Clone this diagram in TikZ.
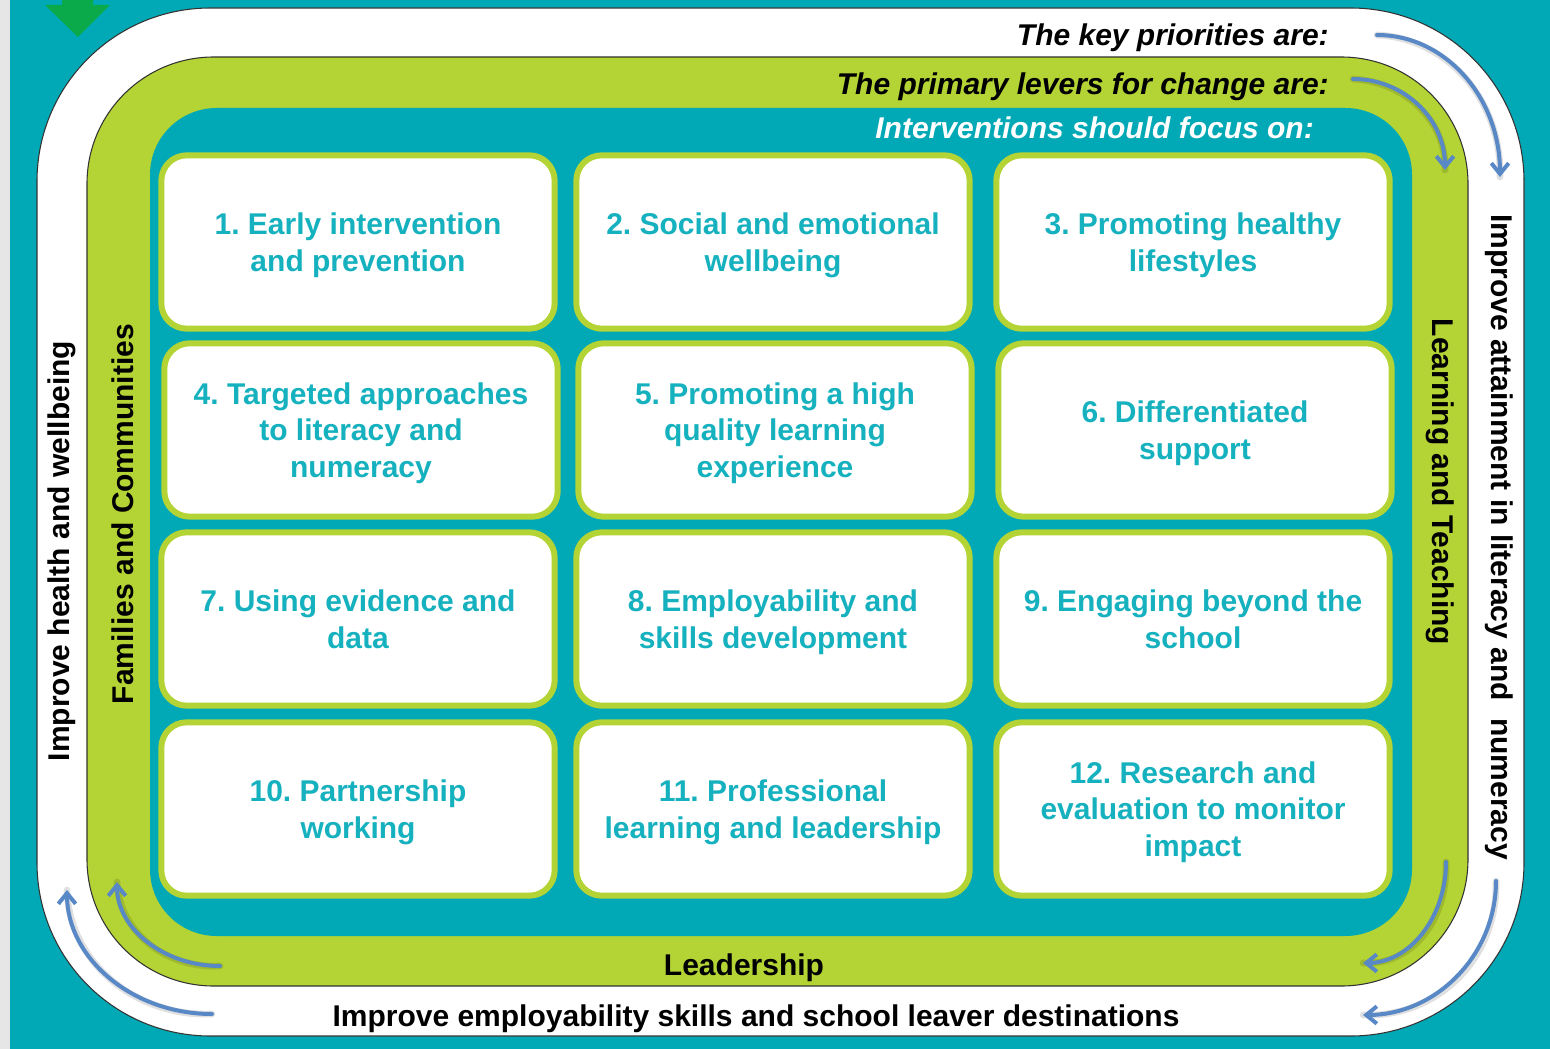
\documentclass[tikz,border=0pt]{standalone}
\usepackage{fontspec}
\setmainfont{Liberation Sans}
\usetikzlibrary{arrows.meta}
\definecolor{bgteal}{RGB}{0,169,181}
\definecolor{lime}{RGB}{180,211,52}
\definecolor{boxtxt}{RGB}{22,177,190}
\definecolor{arrowblue}{RGB}{88,136,198}
\definecolor{leftgray}{RGB}{230,230,230}
\definecolor{downgreen}{RGB}{10,170,75}
\frenchspacing
\begin{document}
\begin{tikzpicture}[x=0.75pt,y=-0.75pt,
  item/.style={draw=lime, line width=4.5pt, fill=white, rounded corners=19pt,
    minimum width=295pt, minimum height=130pt, text=boxtxt, align=center,
    inner sep=0pt, text depth=-3pt, font=\fontsize{22.5}{27.4}\selectfont\bfseries},
  lbl/.style={inner sep=0pt, font=\fontsize{22.5}{27}\selectfont\bfseries},
  ilbl/.style={inner sep=0pt, font=\fontsize{22.5}{27}\selectfont\bfseries\itshape},
  flow/.style={draw=arrowblue, line width=3pt, line cap=round,
    -{Straight Barb[length=8pt,width=13pt,line width=3pt]}},
  flowshadow/.style={draw=black, opacity=0.12, line width=5pt, line cap=round}
]
\useasboundingbox (0,0) rectangle (1550,1049);
% background
\fill[bgteal] (0,0) rectangle (1550,1049);
\fill[leftgray] (0,0) rectangle (10,1049);
% green arrow at top-left
\fill[downgreen] (62,0) -- (93,0) -- (93,5) -- (110,5) -- (78,37) -- (45,5) -- (62,5) -- cycle;
% rings
\draw[fill=white, draw=black!80, line width=0.8pt, rounded corners=130pt] (37,8) rectangle (1524,1036);
\draw[fill=lime, draw=black!80, line width=0.8pt, rounded corners=95pt] (87,57) rectangle (1468,986);
\fill[bgteal, rounded corners=50pt] (150,108) rectangle (1412,936);
% headings
\node[ilbl, anchor=base east] (kp) at (1329,46) {The key priorities are:};
\node[ilbl, anchor=base east] (pl) at (1329,94) {The primary levers for change are:};
\node[ilbl, anchor=base east, text=white] (ifo) at (1314,138) {Interventions should focus on:};
% side labels
\node[lbl, rotate=90] (health) at (62,551) {Improve health and wellbeing};
\node[lbl, rotate=90] (fam) at (123,514) {Families and Communities};
\node[lbl, rotate=-90] (lt) at (1440,482) {Learning and Teaching};
\node[lbl, rotate=-90] (att) at (1499,537) {Improve attainment in literacy and\hspace{0.3em} numeracy};
\node[lbl, anchor=base] (lead) at (744,975) {Leadership};
\node[lbl, anchor=base] (emp) at (756,1026) {Improve employability skills and school leaver destinations};
% boxes
\node[item] (b1) at (358,242) {1. Early intervention\\and prevention};
\node[item] (b2) at (773,242) {2. Social and emotional\\wellbeing};
\node[item] (b3) at (1193,242) {3. Promoting healthy\\lifestyles};
\node[item] (b4) at (361,430) {4. Targeted approaches\\to literacy and\\numeracy};
\node[item] (b5) at (775,430) {5. Promoting a high\\quality learning\\experience};
\node[item] (b6) at (1195,430) {6. Differentiated\\support};
\node[item] (b7) at (358,619) {7. Using evidence and\\data};
\node[item] (b8) at (773,619) {8. Employability and\\skills development};
\node[item] (b9) at (1193,619) {9. Engaging beyond the\\school};
\node[item] (b10) at (358,809) {10. Partnership\\working};
\node[item] (b11) at (773,809) {11. Professional\\learning and leadership};
\node[item] (b12) at (1193,809) {12. Research and\\evaluation to monitor\\impact};
% flow arrows: coordinates
\coordinate (tro1) at (1377,35);  \coordinate (tro2) at (1500,177);
\coordinate (tri1) at (1353,79);  \coordinate (tri2) at (1445,170);
\coordinate (bri1) at (1446,862); \coordinate (bri2) at (1363,963);
\coordinate (bro1) at (1496,881); \coordinate (bro2) at (1363,1015);
\coordinate (bli1) at (220,966);  \coordinate (bli2) at (117,882);
\coordinate (blo1) at (212,1014); \coordinate (blo2) at (67,890);
% shadows
\begin{scope}[shift={(2,3)}]
\draw[flowshadow] (tro1) .. controls (1445,35) and (1500,97) .. (tro2);
\draw[flowshadow] (tri1) .. controls (1404,79) and (1445,119) .. (tri2);
\draw[flowshadow] (bri1) .. controls (1446,918) and (1409,963) .. (bri2);
\draw[flowshadow] (bro1) .. controls (1496,955) and (1436,1015) .. (bro2);
\draw[flowshadow] (bli1) .. controls (163,966) and (117,928) .. (bli2);
\draw[flowshadow] (blo1) .. controls (132,1014) and (67,958) .. (blo2);
\end{scope}
% arrows
\draw[flow] (tro1) .. controls (1445,35) and (1500,97) .. (tro2);
\draw[flow] (tri1) .. controls (1404,79) and (1445,119) .. (tri2);
\draw[flow] (bri1) .. controls (1446,918) and (1409,963) .. (bri2);
\draw[flow] (bro1) .. controls (1496,955) and (1436,1015) .. (bro2);
\draw[flow] (bli1) .. controls (163,966) and (117,928) .. (bli2);
\draw[flow] (blo1) .. controls (132,1014) and (67,958) .. (blo2);
\end{tikzpicture}
\end{document}
